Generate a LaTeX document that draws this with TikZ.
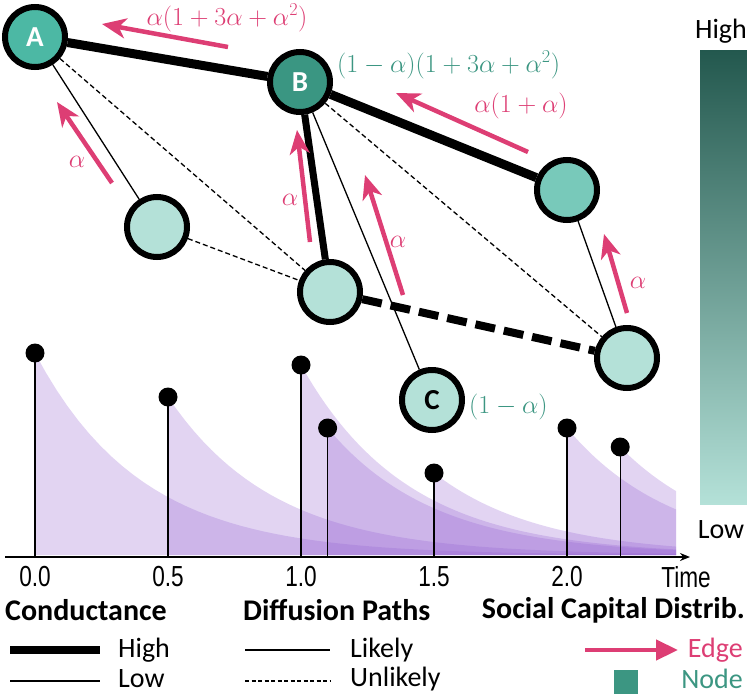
\documentclass[tikz,border=0pt]{standalone}
\usepackage{fix-cm}
\usepackage{fontspec}
\setmainfont{Carlito}
\newfontfamily\narrowfont[FakeStretch=0.78]{Liberation Sans}
\usetikzlibrary{arrows.meta}

\definecolor{edgepink}{RGB}{221,62,116}
\definecolor{nodeteal}{RGB}{60,150,130}
\definecolor{tealA}{RGB}{76,184,164}
\definecolor{tealB}{RGB}{58,150,130}
\definecolor{tealmid}{RGB}{120,201,186}
\definecolor{teallow}{RGB}{180,225,216}
\definecolor{barhigh}{RGB}{35,88,78}
\definecolor{decay}{RGB}{150,100,210}

\begin{document}
\begin{tikzpicture}[x=1pt,y=-1pt,
  capnode/.style={circle,draw,line width=6pt,minimum size=60pt,inner sep=0pt,
    font=\fontsize{29}{29}\selectfont\bfseries},
  highcond/.style={line width=9pt},
  lowcond/.style={line width=1.3pt},
  unlikely/.style={dash pattern=on 5pt off 3pt},
  capflow/.style={edgepink,line width=4.5pt,-{Stealth[length=24pt,width=20pt,inset=7pt]}},
  pinklbl/.style={edgepink,inner sep=0pt,font=\fontsize{26}{26}\selectfont},
  teallbl/.style={nodeteal,inner sep=0pt,font=\fontsize{26}{26}\selectfont},
  ticklbl/.style={inner sep=0pt,font=\fontsize{29}{29}\selectfont\narrowfont},
  legtitle/.style={inner sep=0pt,font=\fontsize{30}{30}\selectfont\bfseries},
  legtext/.style={inner sep=0pt,font=\fontsize{28}{28}\selectfont}]
\useasboundingbox (0,0) rectangle (747,696);

% decaying capital over time
\foreach \t/\top in {0/353,0.5/397,1.0/365,1.1/428,1.5/473,2.0/428,2.2/447}{
  \pgfmathsetmacro\xs{35+266*\t}
  \fill[decay,fill opacity=0.28] (\xs,555) -- plot[domain=\xs:676,samples=60]
    (\x,{555-(555-\top)*exp(-0.0094*(\x-\xs))}) -- (676,555) -- cycle;
  \draw[line width=1.3pt] (\xs,557) -- (\xs,\top);
  \fill (\xs,\top) circle[radius=9.5pt];
}
\draw[line width=1.8pt,-{Stealth[length=10pt,width=8pt]}] (5,557) -- (690,557);
\foreach \t/\n in {0.0/0,0.5/1,1.0/2,1.5/3,2.0/4}
  \path ({35+266*\t},577) node[ticklbl] (tick\n) {\t};
\path (686,577) node[ticklbl] (time) {Time};

% graph
\path (35,37) node[capnode,fill=tealA,text=white] (A) {A};
\path (300,82) node[capnode,fill=tealB,text=white] (B) {B};
\path (567,190) node[capnode,fill=tealmid] (R) {};
\path (157,227) node[capnode,fill=teallow] (L) {};
\path (330,292) node[capnode,fill=teallow] (M) {};
\path (627,358) node[capnode,fill=teallow] (S) {};
\path (432,400) node[capnode,fill=teallow] (C) {C};

\draw[highcond] (A) -- (B);
\draw[highcond] (B) -- (R);
\draw[line width=7pt] (B) -- (M);
\draw[line width=8pt,dash pattern=on 20pt off 9pt] (M) -- (S);
\draw[lowcond] (A) -- (L);
\draw[lowcond,unlikely] (A) -- (M);
\draw[lowcond,unlikely] (L) -- (M);
\draw[lowcond] (B) -- (C);
\draw[lowcond,unlikely] (B) -- (S);
\draw[lowcond] (R) -- (S);

% capital flowing back
\coordinate (ab1) at (228,47);  \coordinate (ab2) at (102,24);
\coordinate (rb1) at (528,152); \coordinate (rb2) at (396,93);
\coordinate (la1) at (112,183); \coordinate (la2) at (57,102);
\coordinate (mb1) at (310,242); \coordinate (mb2) at (297,130);
\coordinate (cb1) at (403,295); \coordinate (cb2) at (365,175);
\coordinate (sr1) at (627,313); \coordinate (sr2) at (604,234);
\draw[capflow] (ab1) -- (ab2);
\draw[capflow] (rb1) -- (rb2);
\draw[capflow] (la1) -- (la2);
\draw[capflow] (mb1) -- (mb2);
\draw[capflow] (cb1) -- (cb2);
\draw[capflow] (sr1) -- (sr2);
\path (227,18) node[pinklbl] {$\alpha(1+3\alpha+\alpha^2)$};
\path (521,106) node[pinklbl] {$\alpha(1+\alpha)$};
\path (77,162) node[pinklbl] {$\alpha$};
\path (290,200) node[pinklbl] {$\alpha$};
\path (398,242) node[pinklbl] {$\alpha$};
\path (638,283) node[pinklbl] {$\alpha$};
\path (337,65) node[teallbl,anchor=west] {$(1-\alpha)(1+3\alpha+\alpha^2)$};
\path (469,407) node[teallbl,anchor=west] {$(1-\alpha)$};

% colour bar
\shade[top color=barhigh,bottom color=teallow] (700,50) rectangle (747,504);
\path (721,31) node[legtext] (high) {High};
\path (721,530) node[legtext] (low) {Low};

% legend
\path (5,610) node[legtitle,anchor=west] (cond) {Conductance};
\path (243,610) node[legtitle,anchor=west] (diff) {Diffusion Paths};
\path (745,610) node[legtitle,anchor=east] (scd) {Social Capital Distrib.};
\coordinate (hi1) at (10,650);  \coordinate (hi2) at (100,650);
\coordinate (lo1) at (10,681);  \coordinate (lo2) at (100,681);
\coordinate (li1) at (245,650); \coordinate (li2) at (330,650);
\coordinate (un1) at (245,681); \coordinate (un2) at (330,681);
\coordinate (ed1) at (585,650); \coordinate (ed2) at (678,650);
\draw[line width=8pt] (hi1) -- (hi2);
\draw[lowcond] (lo1) -- (lo2);
\draw[lowcond] (li1) -- (li2);
\draw[lowcond,dash pattern=on 4pt off 2.5pt] (un1) -- (un2);
\draw[capflow,-{Stealth[length=22pt,width=20pt,inset=0pt]}] (ed1) -- (ed2);
\path (118,650) node[legtext,anchor=west] {High};
\path (118,679) node[legtext,anchor=west] {Low};
\path (350,650) node[legtext,anchor=west] {Likely};
\path (350,679) node[legtext,anchor=west] {Unlikely};
\path (743,650) node[legtext,anchor=east,text=edgepink] {Edge};
\path (626,682) node[fill=nodeteal,minimum size=24pt,inner sep=0pt] (sq) {};
\path (743,679) node[legtext,anchor=east,text=nodeteal] {Node};
\end{tikzpicture}
\end{document}
